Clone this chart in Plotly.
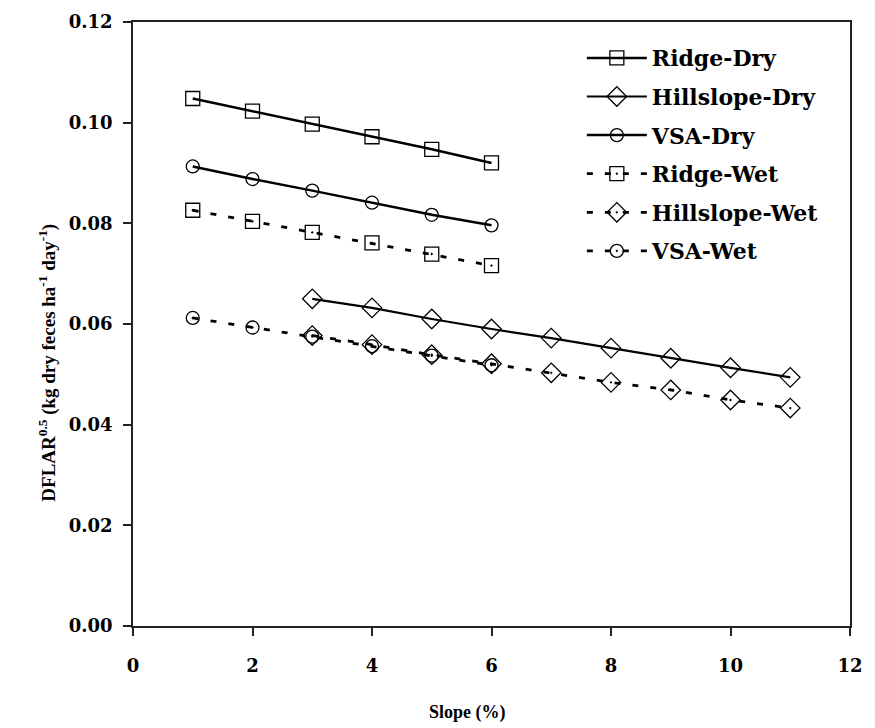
import plotly.graph_objects as go

slope_a = [1, 2, 3, 4, 5, 6]
slope_b = [3, 4, 5, 6, 7, 8, 9, 10, 11]

ridge_dry = [0.1048, 0.1023, 0.0997, 0.0972, 0.0947, 0.0920]
hill_dry = [0.0650, 0.0632, 0.0610, 0.0590, 0.0572, 0.0552, 0.0532, 0.0513, 0.0494]
vsa_dry = [0.0913, 0.0888, 0.0865, 0.0841, 0.0817, 0.0796]
ridge_wet = [0.0826, 0.0804, 0.0782, 0.0761, 0.0739, 0.0716]
hill_wet = [0.0577, 0.0559, 0.0539, 0.0521, 0.0503, 0.0484, 0.0469, 0.0449, 0.0433]
vsa_wet = [0.0612, 0.0593, 0.0575, 0.0556, 0.0537, 0.0518]

SERIF = "Liberation Serif"
WIDE = "DejaVu Serif"

series = [
    ("Ridge-Dry", slope_a, ridge_dry, "solid", 2.5, "square-open", 14),
    ("Hillslope-Dry", slope_b, hill_dry, "solid", 2.2, "diamond-open", 15),
    ("VSA-Dry", slope_a, vsa_dry, "solid", 2.5, "circle-open", 13),
    ("Ridge-Wet", slope_a, ridge_wet, "6px,12px", 2.8, "square-open-dot", 14),
    ("Hillslope-Wet", slope_b, hill_wet, "6px,12px", 2.8, "diamond-open-dot", 15),
    ("VSA-Wet", slope_a, vsa_wet, "6px,12px", 2.8, "circle-open-dot", 13),
]

fig = go.Figure()
for i, (name, xs, ys, dash, w, sym, sz) in enumerate(series):
    fig.add_trace(go.Scatter(
        x=xs, y=ys, name=name, mode="lines+markers",
        line=dict(color="black", width=w, dash=dash),
        marker=dict(symbol=sym, size=sz, color="black", line=dict(width=1.3, color="black")),
        legendgroup=f"g{i}",
    ))

fig.update_layout(
    width=867, height=720,
    margin=dict(l=125, r=25, t=14, b=102, autoexpand=False),
    paper_bgcolor="white", plot_bgcolor="white",
    font=dict(family=SERIF, color="black", size=19),
    showlegend=True,
    legend=dict(
        x=0.626, y=0.975, xanchor="left", yanchor="top",
        bgcolor="rgba(0,0,0,0)", borderwidth=0,
        font=dict(family=WIDE, size=22, weight="bold"),
        tracegroupgap=7, itemwidth=60,
    ),
    annotations=[
        dict(text="DFLAR<sup>0.5</sup> (kg dry feces ha<sup>-1</sup> day<sup>-1</sup>)",
             xref="paper", yref="paper", x=-0.1185, y=0.436, xanchor="center", yanchor="middle",
             textangle=-90, showarrow=False, font=dict(family=SERIF, size=19, weight="bold")),
        dict(text="Slope (%)", xref="paper", yref="paper", x=0.466, y=-0.1424,
             xanchor="center", yanchor="middle", showarrow=False,
             font=dict(family=SERIF, size=18, weight="bold")),
    ],
)
fig.update_xaxes(
    range=[0, 12], dtick=2, tick0=0, automargin=False,
    showline=True, linecolor="#222", linewidth=1.5, mirror=True,
    ticks="outside", ticklen=8, tickwidth=1.5, tickcolor="#222",
    showgrid=False, zeroline=False, ticklabelstandoff=15,
    tickfont=dict(family=WIDE, size=18, weight="bold"),
)
fig.update_yaxes(
    range=[0, 0.12], dtick=0.02, tick0=0, tickformat=".2f", automargin=False,
    showline=True, linecolor="#222", linewidth=1.5, mirror=True,
    ticks="outside", ticklen=8, tickwidth=1.5, tickcolor="#222",
    showgrid=False, zeroline=False, ticklabelstandoff=7,
    tickfont=dict(family=WIDE, size=18, weight="bold"),
)

fig.write_html("out.html")
